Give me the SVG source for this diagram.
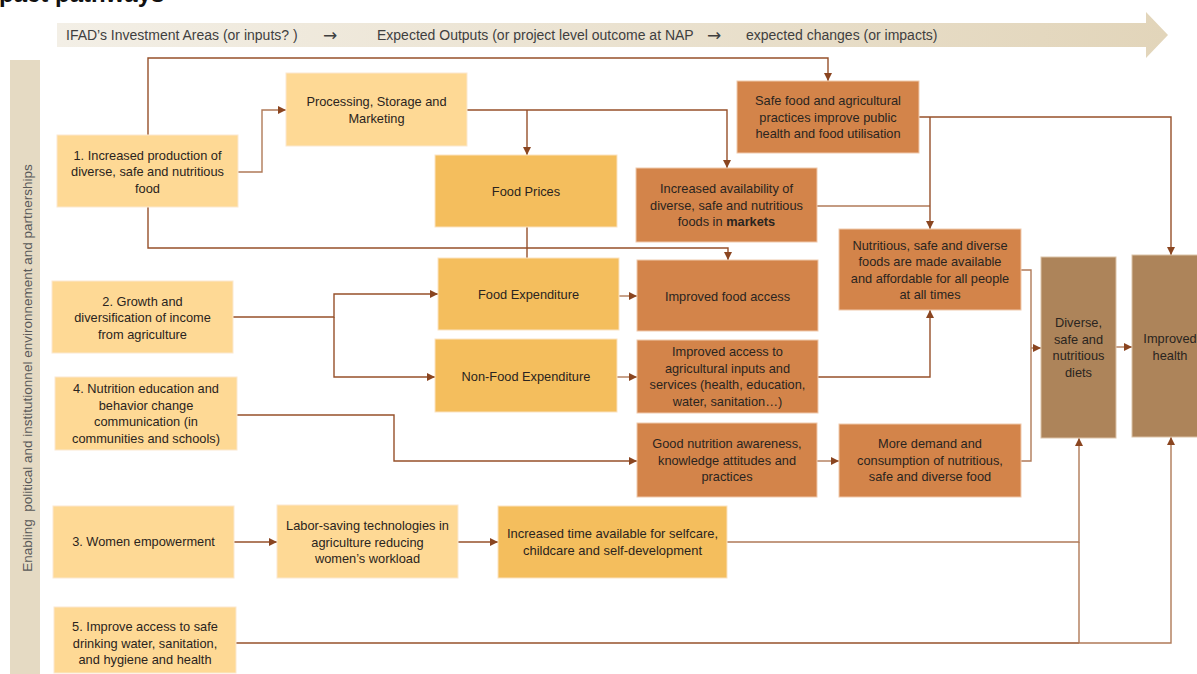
<svg xmlns="http://www.w3.org/2000/svg" width="1197" height="674" viewBox="0 0 1197 674">
<defs>
<linearGradient id="band" x1="0" y1="0" x2="1" y2="0">
<stop offset="0" stop-color="#f3efe6"/>
<stop offset="1" stop-color="#e2d5ba"/>
</linearGradient>
<marker id="ah" markerUnits="userSpaceOnUse" markerWidth="9" markerHeight="9" refX="8" refY="4" orient="auto">
<path d="M0,0 L8,4 L0,8 z" fill="#8a4520"/>
</marker>
<style>
.t{font-family:"Liberation Sans",Arial,sans-serif;font-size:12.8px;fill:#2a2420;text-anchor:middle}
.h{font-family:"Liberation Sans",Arial,sans-serif;font-size:14px;fill:#3f3f3f}
.ar{font-family:"DejaVu Sans",sans-serif;font-size:17px;fill:#3f3f3f}
.b1{fill:#fed995;stroke:#fbe8cf;stroke-width:1}
.b2{fill:#f4be5d;stroke:#fbe3c2;stroke-width:1}
.b3{fill:#d3844a;stroke:#f0c9ac;stroke-width:1}
.b4{fill:#ad845a;stroke:#dcc3a8;stroke-width:1}
.c{fill:none;stroke:#96502a;stroke-width:1.4}
.cl{fill:none;stroke:#b07a58;stroke-width:1.4}
</style>
</defs>
<rect width="1197" height="674" fill="#ffffff"/>
<text x="-29" y="2" font-family="Liberation Sans,Arial,sans-serif" font-size="24" font-weight="bold" fill="#111">Impact pathways</text>
<g id="header">
<polygon points="57,23 1146,23 1146,12 1168,35 1146,58 1146,47 57,47" fill="url(#band)"/>
<text class="h" x="66" y="40">IFAD’s Investment Areas (or inputs? )</text>
<text class="ar" x="323" y="41">→</text>
<text class="h" x="377" y="40">Expected Outputs (or project level outcome at NAP</text>
<text class="ar" x="707" y="41">→</text>
<text class="h" x="746" y="40">expected changes (or impacts)</text>
</g>
<g id="enabling">
<rect x="10" y="60" width="30" height="614" fill="#e5dac3"/>
<text transform="translate(31.5,368) rotate(-90)" font-family="Liberation Sans,Arial,sans-serif" font-size="13.5" fill="#595959" text-anchor="middle" xml:space="preserve">Enabling  political and institutionnel environnement and partnerships</text>
</g>
<g id="connectors">
<path class="c" d="M148,135 V58 H828 V81" marker-end="url(#ah)"/>
<path class="c" d="M148,207 V248 H728 V260" marker-end="url(#ah)"/>
<path class="cl" d="M238,172 H262 V110 H286" marker-end="url(#ah)"/>
<path class="c" d="M467,110 H727 V168" marker-end="url(#ah)"/>
<path class="c" d="M527,110 V155" marker-end="url(#ah)"/>
<path class="c" d="M527,227 V258"/>
<path class="c" d="M233,317 H334 V294 H438" marker-end="url(#ah)"/>
<path class="c" d="M334,317 V377 H435" marker-end="url(#ah)"/>
<path class="cl" d="M619,296 H637" marker-end="url(#ah)"/>
<path class="cl" d="M617,377 H637" marker-end="url(#ah)"/>
<path class="c" d="M818,377 H930 V310" marker-end="url(#ah)"/>
<path class="cl" d="M817,206 H930"/>
<path class="c" d="M919,117 H1171 V255" marker-end="url(#ah)"/>
<path class="c" d="M930,117 V229" marker-end="url(#ah)"/>
<path class="c" d="M237,415 H394 V461 H637" marker-end="url(#ah)"/>
<path class="cl" d="M817,461 H839" marker-end="url(#ah)"/>
<path class="cl" d="M1021,270 H1031 V461 H1021"/>
<path class="cl" d="M1031,348 H1041" marker-end="url(#ah)"/>
<path class="cl" d="M1116,347 H1132" marker-end="url(#ah)"/>
<path class="c" d="M234,542 H277" marker-end="url(#ah)"/>
<path class="c" d="M458,542 H498" marker-end="url(#ah)"/>
<path class="cl" d="M727,542 H1079 V438" marker-end="url(#ah)"/>
<path class="c" d="M236,643 H1079"/>
<path class="cl" d="M1079,643 V542"/>
<path class="cl" d="M1079,643 H1171 V437" marker-end="url(#ah)"/>
</g>
<g id="n1"><rect class="b1" x="57" y="135" width="181" height="72"/>
<text class="t" x="147.5" y="159.5">1. Increased production of</text>
<text class="t" x="147.5" y="176">diverse, safe and nutritious</text>
<text class="t" x="147.5" y="192.5">food</text></g>
<g id="n_processing"><rect class="b1" x="286" y="73" width="181" height="73"/>
<text class="t" x="376.5" y="106">Processing, Storage and</text>
<text class="t" x="376.5" y="122.5">Marketing</text></g>
<g id="n_prices"><rect class="b2" x="435" y="155" width="182" height="72"/>
<text class="t" x="526" y="196">Food Prices</text></g>
<g id="n_availability"><rect class="b3" x="636" y="168" width="181" height="74"/>
<text class="t" x="726.5" y="193">Increased availability of</text>
<text class="t" x="726.5" y="209.5">diverse, safe and nutritious</text>
<text class="t" x="726.5" y="226">foods in <tspan font-weight="bold">markets</tspan></text></g>
<g id="n_safefood"><rect class="b3" x="737" y="81" width="182" height="72"/>
<text class="t" x="828" y="105">Safe food and agricultural</text>
<text class="t" x="828" y="121.5">practices improve public</text>
<text class="t" x="828" y="138">health and food utilisation</text></g>
<g id="n_nutritious"><rect class="b3" x="839" y="229" width="182" height="81"/>
<text class="t" x="930" y="249.5">Nutritious, safe and diverse</text>
<text class="t" x="930" y="266">foods are made available</text>
<text class="t" x="930" y="282.5">and affordable for all people</text>
<text class="t" x="930" y="299">at all times</text></g>
<g id="n_diets"><rect class="b4" x="1041" y="257" width="75" height="181"/>
<text class="t" x="1078.5" y="327">Diverse,</text>
<text class="t" x="1078.5" y="343.5">safe and</text>
<text class="t" x="1078.5" y="360">nutritious</text>
<text class="t" x="1078.5" y="376.5">diets</text></g>
<g id="n_health"><rect class="b4" x="1132" y="255" width="78" height="182"/>
<text class="t" x="1170" y="343">Improved</text>
<text class="t" x="1170" y="359.5">health</text></g>
<g id="n2"><rect class="b1" x="52" y="281" width="181" height="72"/>
<text class="t" x="142.5" y="305.5">2. Growth and</text>
<text class="t" x="142.5" y="322">diversification of income</text>
<text class="t" x="142.5" y="338.5">from agriculture</text></g>
<g id="n_foodexp"><rect class="b2" x="438" y="258" width="181" height="72"/>
<text class="t" x="528.5" y="299">Food Expenditure</text></g>
<g id="n_foodaccess"><rect class="b3" x="637" y="260" width="181" height="71"/>
<text class="t" x="727.5" y="300.5">Improved food access</text></g>
<g id="n_nonfood"><rect class="b2" x="435" y="339" width="182" height="73"/>
<text class="t" x="526" y="381">Non-Food Expenditure</text></g>
<g id="n_inputs"><rect class="b3" x="637" y="340" width="181" height="73"/>
<text class="t" x="727.5" y="356">Improved access to</text>
<text class="t" x="727.5" y="372.5">agricultural inputs and</text>
<text class="t" x="727.5" y="389">services (health, education,</text>
<text class="t" x="727.5" y="405.5">water, sanitation…)</text></g>
<g id="n4"><rect class="b1" x="55" y="377" width="182" height="73"/>
<text class="t" x="146" y="393">4. Nutrition education and</text>
<text class="t" x="146" y="409.5">behavior change</text>
<text class="t" x="146" y="426">communication (in</text>
<text class="t" x="146" y="442.5">communities and schools)</text></g>
<g id="n_awareness"><rect class="b3" x="637" y="423" width="180" height="74"/>
<text class="t" x="727" y="448">Good nutrition awareness,</text>
<text class="t" x="727" y="464.5">knowledge attitudes and</text>
<text class="t" x="727" y="481">practices</text></g>
<g id="n_demand"><rect class="b3" x="839" y="424" width="182" height="73"/>
<text class="t" x="930" y="448">More demand and</text>
<text class="t" x="930" y="464.5">consumption of nutritious,</text>
<text class="t" x="930" y="481">safe and diverse food</text></g>
<g id="n3"><rect class="b1" x="53" y="506" width="181" height="72"/>
<text class="t" x="143.5" y="546">3. Women empowerment</text></g>
<g id="n_labor"><rect class="b1" x="277" y="505" width="181" height="73"/>
<text class="t" x="367.5" y="530">Labor-saving technologies in</text>
<text class="t" x="367.5" y="546.5">agriculture reducing</text>
<text class="t" x="367.5" y="563">women’s workload</text></g>
<g id="n_time"><rect class="b2" x="498" y="506" width="229" height="72"/>
<text class="t" x="612.5" y="538" textLength="211" lengthAdjust="spacingAndGlyphs">Increased time available for selfcare,</text>
<text class="t" x="612.5" y="554.5" textLength="179" lengthAdjust="spacingAndGlyphs">childcare and self-development</text></g>
<g id="n5"><rect class="b1" x="54" y="607" width="182" height="66"/>
<text class="t" x="145" y="631">5. Improve access to safe</text>
<text class="t" x="145" y="647.5">drinking water, sanitation,</text>
<text class="t" x="145" y="664">and hygiene and health</text></g>
</svg>
